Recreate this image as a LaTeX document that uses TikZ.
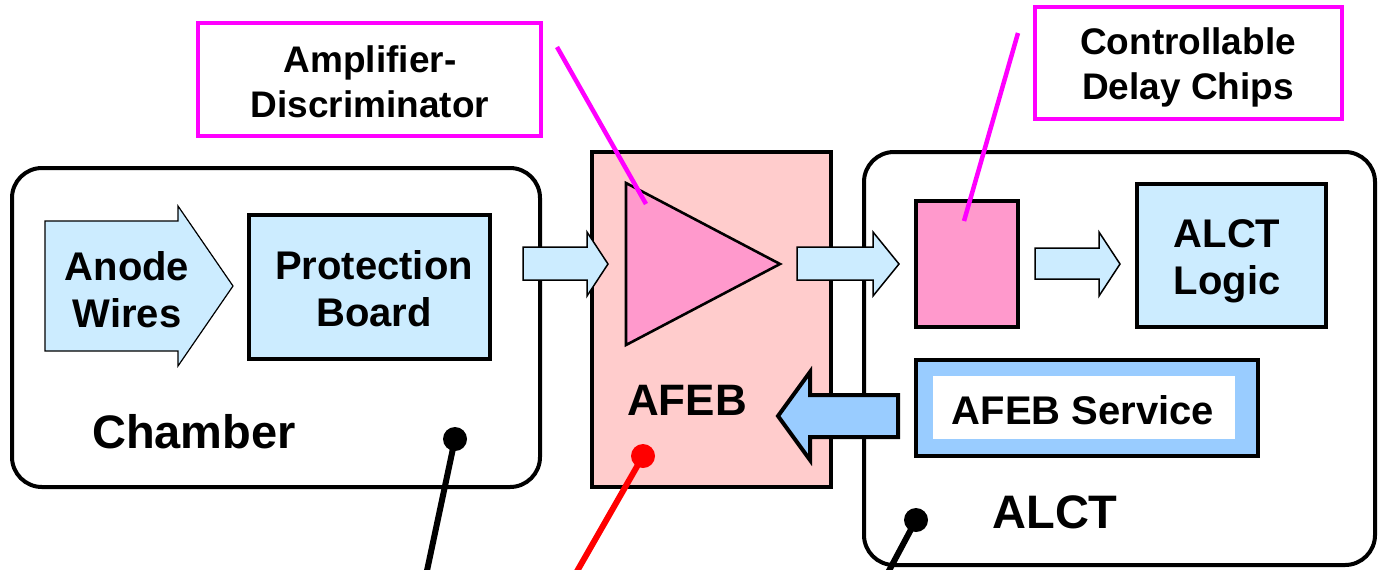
\documentclass[tikz,border=0pt]{standalone}
\usepackage{fontspec}
\setmainfont{Liberation Sans}
\definecolor{paleblue}{HTML}{CCECFF}
\definecolor{boardpink}{HTML}{FFCCCC}
\definecolor{chippink}{HTML}{FF99CC}
\definecolor{serviceblue}{HTML}{99CCFF}
\definecolor{callout}{HTML}{FF00FF}
\newcommand\boxfont{\fontsize{20}{23.5}\selectfont\bfseries}
\newcommand\calloutfont{\fontsize{18.5}{22.5}\selectfont\bfseries}
\newcommand\bigfont{\fontsize{23.5}{28}\selectfont\bfseries}
\begin{document}
\begin{tikzpicture}[x=0.5pt,y=-0.5pt,
  every node/.style={inner sep=0pt, outer sep=0pt},
  enclosure/.style={draw, line width=2pt, rounded corners=15pt},
  block/.style={draw, line width=2pt, align=center, font=\boxfont},
  calloutbox/.style={draw=callout, line width=2pt, align=center, font=\calloutfont},
  flowarrow/.style={draw, fill=paleblue, line width=0.75pt},
  leader/.style={draw=callout, line width=2.25pt},
  pindot/.style={circle, fill=black, minimum size=12pt},
  pinline/.style={line width=3pt}]
\useasboundingbox (0,0) rectangle (1385,569);

% enclosures
\node[enclosure, minimum width=264pt, minimum height=159.5pt] (chamber) at (276,327.5) {};
\node[enclosure, minimum width=255.5pt, minimum height=206.5pt] (alct) at (1119.5,358.5) {};
\node[draw, fill=boardpink, line width=2.2pt, minimum width=119.5pt, minimum height=167.5pt] (afeb) at (711.5,319.5) {};

% labels of the enclosures
\node[font=\bigfont] (chamberlbl) at (194,432) {Chamber};
\node[font=\bigfont] (alctlbl) at (1055,512) {ALCT};
\node[font=\fontsize{22}{26}\selectfont\bfseries] (afeblbl) at (687,400) {AFEB};

% chamber contents
\draw[flowarrow, line width=0.6pt] (45,221) -- (178,221) -- (178,206) -- (233,286) -- (178,366) -- (178,351) -- (45,351) -- cycle;
\node[font=\boxfont, align=center] (anode) at (127,290) {Anode\\Wires};
\node[block, fill=paleblue, minimum width=120.5pt, minimum height=72pt] (board) at (369.5,287) {};
\node[font=\boxfont, align=center] (boardlbl) at (374,289) {Protection\\Board};

% signal path arrows
\draw[flowarrow] (523,247) -- (587,247) -- (587,232) -- (608,264) -- (587,296) -- (587,280) -- (523,280) -- cycle;
\draw[flowarrow] (797,247) -- (873,247) -- (873,232) -- (899,264) -- (873,296) -- (873,280) -- (797,280) -- cycle;
\draw[flowarrow] (1035,248) -- (1099,248) -- (1099,232) -- (1120,264) -- (1099,296) -- (1099,279) -- (1035,279) -- cycle;

% amplifier-discriminator
\draw[fill=chippink, line width=1.3pt] (626,183) -- (780,264) -- (626,345) -- cycle;

% ALCT contents
\node[draw, fill=chippink, line width=2pt, minimum width=51pt, minimum height=63pt] (delay) at (967,264) {};
\node[block, fill=paleblue, minimum width=94.5pt, minimum height=71.5pt] (logic) at (1231.5,255.5) {};
\node[font=\boxfont, align=center] (logiclbl) at (1227,261) {ALCT\\Logic};
\node[draw, fill=serviceblue, line width=2pt, minimum width=171pt, minimum height=48pt] (service) at (1087,408) {};
\node[fill=white, minimum width=151pt, minimum height=31.5pt] (serviceinner) at (1084,407.5) {};
\node[font=\boxfont] (servicelbl) at (1083,410) {AFEB Service};

% service arrow back to the AFEB
\draw[fill=serviceblue, line width=2pt] (898,395) -- (810,395) -- (810,372) -- (778,416) -- (810,460) -- (810,437) -- (898,437) -- cycle;

% callouts
\node[calloutbox, minimum width=171.5pt, minimum height=56.5pt] (ampbox) at (369.5,79.5) {};
\node[font=\calloutfont, align=center] (amptext) at (370,82) {Amplifier-\\Discriminator};
\node[calloutbox, minimum width=153.5pt, minimum height=56pt] (delaybox) at (1188.5,63) {};
\node[font=\calloutfont, align=center] (delaytext) at (1188,67) {Controllable\\Delay Chips};
\coordinate (ampfrom) at (557,47);
\coordinate (ampto) at (646,204);
\coordinate (delayfrom) at (1018,33);
\coordinate (delayto) at (964,221);
\draw[leader] (ampfrom) -- (ampto);
\draw[leader] (delayfrom) -- (delayto);

% pins
\node[pindot] (chamberpin) at (455,439) {};
\node[pindot, fill=red] (afebpin) at (643,456) {};
\node[pindot] (alctpin) at (916,520) {};
\coordinate (chamberend) at (425,580);
\coordinate (afebend) at (572,580);
\coordinate (alctend) at (884,580);
\draw[pinline] (chamberpin.center) -- (chamberend);
\draw[pinline, red] (afebpin.center) -- (afebend);
\draw[pinline] (alctpin.center) -- (alctend);
\end{tikzpicture}
\end{document}
